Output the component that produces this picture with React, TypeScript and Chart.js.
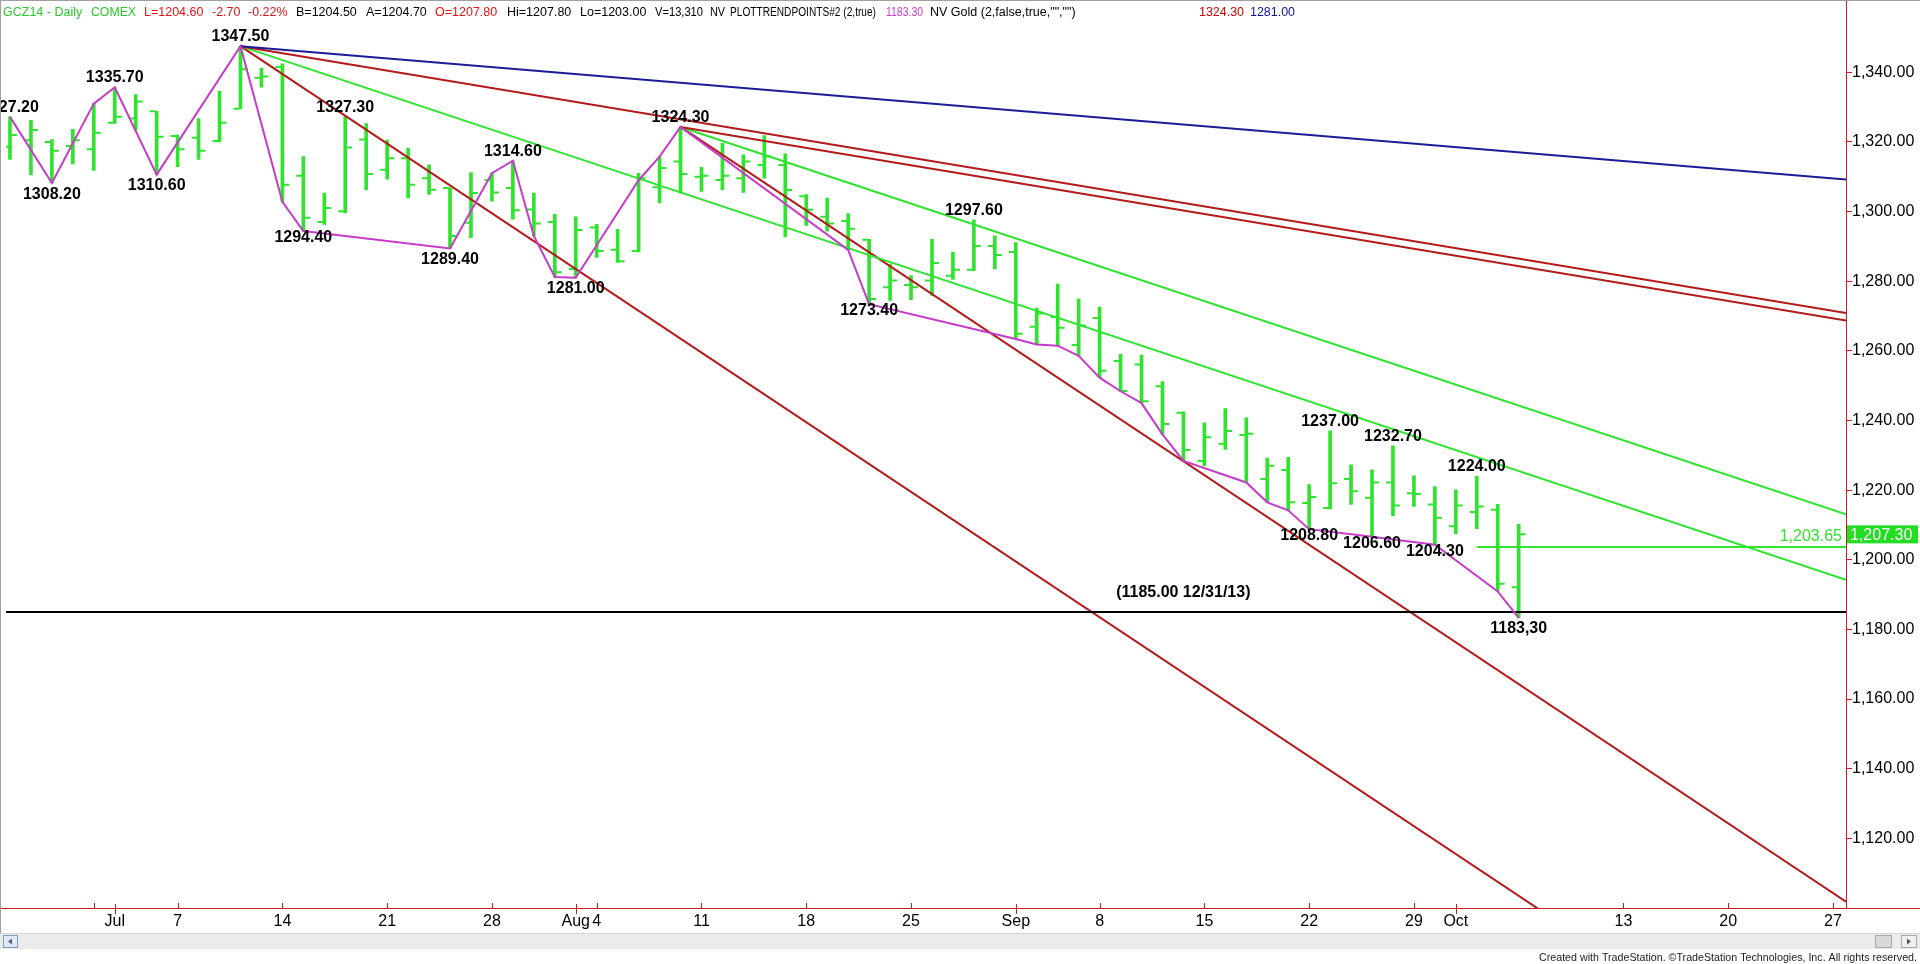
import React, { useEffect, useRef } from 'react';
import { Chart, registerables } from 'chart.js';

Chart.register(...registerables);

// ---------------- data ----------------
const dates = [
  'Jun 24', 'Jun 25', 'Jun 26', 'Jun 27', 'Jun 30',
  'Jul 1', 'Jul 2', 'Jul 3', 'Jul 7', 'Jul 8', 'Jul 9', 'Jul 10', 'Jul 11',
  'Jul 14', 'Jul 15', 'Jul 16', 'Jul 17', 'Jul 18',
  'Jul 21', 'Jul 22', 'Jul 23', 'Jul 24', 'Jul 25',
  'Jul 28', 'Jul 29', 'Jul 30', 'Jul 31', 'Aug 1',
  'Aug 4', 'Aug 5', 'Aug 6', 'Aug 7', 'Aug 8',
  'Aug 11', 'Aug 12', 'Aug 13', 'Aug 14', 'Aug 15',
  'Aug 18', 'Aug 19', 'Aug 20', 'Aug 21', 'Aug 22',
  'Aug 25', 'Aug 26', 'Aug 27', 'Aug 28', 'Aug 29',
  'Sep 2', 'Sep 3', 'Sep 4', 'Sep 5',
  'Sep 8', 'Sep 9', 'Sep 10', 'Sep 11', 'Sep 12',
  'Sep 15', 'Sep 16', 'Sep 17', 'Sep 18', 'Sep 19',
  'Sep 22', 'Sep 23', 'Sep 24', 'Sep 25', 'Sep 26',
  'Sep 29', 'Sep 30', 'Oct 1', 'Oct 2', 'Oct 3', 'Oct 6',
];

const opens = [
  1318.6, 1320.5, 1320.0, 1318.8, 1317.9, 1325.5, 1326.7, 1328.8, 1321.7, 1321.2,
  1320.3, 1329.5, 1338.4, 1341.5, 1310.3, 1297.0, 1300.1, 1320.7, 1312.0, 1315.3,
  1309.6, 1306.8, 1296.8, 1309.1, 1306.8, 1300.6, 1297.0, 1283.5, 1295.4, 1289.0,
  1288.7, 1307.0, 1314.4, 1310.0, 1309.1, 1309.6, 1313.4, 1313.4, 1304.4, 1298.5,
  1297.3, 1291.9, 1278.3, 1278.9, 1280.2, 1281.6, 1283.3, 1290.1, 1288.4, 1266.9,
  1269.7, 1261.7, 1269.4, 1257.1, 1256.1, 1249.8, 1242.2, 1228.4, 1233.3, 1235.8,
  1223.2, 1225.8, 1216.3, 1214.9, 1223.2, 1217.8, 1222.2, 1219.1, 1215.9, 1209.6,
  1213.7, 1214.4, 1192.1,
];
const highs = [
  1327.2, 1326.2, 1320.7, 1323.6, 1331.0, 1335.7, 1333.6, 1328.8, 1322.0, 1326.7,
  1334.6, 1347.5, 1341.2, 1342.4, 1315.8, 1305.3, 1327.3, 1325.3, 1320.5, 1318.2,
  1313.4, 1306.8, 1311.2, 1311.0, 1314.6, 1305.3, 1299.2, 1298.5, 1296.3, 1294.9,
  1311.0, 1315.8, 1324.3, 1312.7, 1319.6, 1316.3, 1321.8, 1316.6, 1304.9, 1303.9,
  1299.4, 1292.0, 1284.9, 1281.6, 1292.0, 1288.4, 1297.6, 1293.0, 1291.1, 1272.3,
  1279.2, 1274.9, 1272.6, 1259.0, 1258.8, 1251.2, 1242.5, 1239.3, 1243.4, 1240.8,
  1229.2, 1229.4, 1221.6, 1237.0, 1227.3, 1225.8, 1232.7, 1224.1, 1221.0, 1220.1,
  1224.0, 1215.9, 1210.2,
];
const lows = [
  1315.0, 1310.5, 1308.2, 1313.7, 1311.8, 1325.3, 1323.4, 1310.6, 1312.9, 1315.0,
  1320.0, 1329.5, 1335.7, 1302.8, 1294.4, 1296.3, 1299.6, 1306.3, 1309.3, 1303.9,
  1304.9, 1289.4, 1292.5, 1303.0, 1297.8, 1293.0, 1281.2, 1281.0, 1286.8, 1285.4,
  1288.4, 1302.5, 1305.3, 1305.8, 1306.3, 1305.5, 1309.6, 1292.7, 1296.0, 1294.4,
  1289.0, 1273.4, 1274.5, 1274.7, 1275.9, 1280.5, 1283.0, 1283.5, 1263.4, 1261.8,
  1261.5, 1258.6, 1252.3, 1248.4, 1245.0, 1236.0, 1228.4, 1227.0, 1231.7, 1222.2,
  1216.5, 1214.2, 1208.8, 1214.6, 1215.9, 1206.6, 1212.7, 1215.3, 1204.3, 1207.5,
  1208.9, 1190.9, 1183.3,
];
const closes = [
  1322.0, 1323.4, 1317.5, 1320.5, 1322.6, 1327.2, 1331.6, 1321.5, 1317.9, 1317.5,
  1325.5, 1340.9, 1338.8, 1307.7, 1298.2, 1301.0, 1318.4, 1310.8, 1315.3, 1307.7,
  1306.3, 1293.0, 1305.3, 1305.5, 1300.4, 1296.6, 1282.6, 1294.7, 1288.7, 1285.7,
  1309.6, 1312.5, 1310.8, 1310.3, 1310.3, 1314.4, 1315.8, 1306.2, 1300.5, 1296.6,
  1295.1, 1274.9, 1280.2, 1278.3, 1285.2, 1283.3, 1290.1, 1287.5, 1264.9, 1270.7,
  1266.6, 1267.3, 1254.3, 1248.5, 1245.5, 1239.0, 1231.5, 1235.2, 1237.0, 1236.2,
  1227.0, 1216.5, 1218.0, 1222.0, 1219.7, 1222.2, 1215.6, 1218.9, 1212.1, 1215.6,
  1215.3, 1193.1, 1207.3,
];

// x axis (trading-day index) ticks
const xTickIdx = [4, 5, 8, 13, 18, 23, 27, 28, 33, 38, 43, 48, 52, 57, 62, 67, 69, 77, 82, 87];
const xTickLabels = ['', 'Jul', '7', '14', '21', '28', 'Aug', '4', '11', '18', '25', 'Sep', '8', '15', '22', '29', 'Oct', '13', '20', '27'];
const yTickValues = [1120, 1140, 1160, 1180, 1200, 1220, 1240, 1260, 1280, 1300, 1320, 1340];

// zig-zag (trend points) line
const zigIdx = [0, 2, 4, 5, 7, 11, 13, 14, 21, 23, 24, 25, 26, 27, 30, 31, 32, 40, 41, 48, 49, 50, 51, 52, 53, 54, 55, 56, 59, 60, 61, 62, 65, 68, 71, 72];
const zigVal = [
  1327.2, 1308.2, 1331.0, 1335.7, 1310.6, 1347.5, 1302.8, 1294.4, 1289.4, 1311.0,
  1314.6, 1293.0, 1281.2, 1281.0, 1309.0, 1315.8, 1324.3, 1289.0, 1273.4, 1263.4,
  1261.8, 1261.5, 1258.6, 1252.3, 1248.4, 1245.0, 1236.0, 1228.4, 1222.2, 1216.5,
  1214.2, 1208.8, 1206.6, 1204.3, 1190.9, 1183.3,
];

// pivot labels
const pivotIdx = [0, 2, 5, 7, 11, 14, 16, 21, 24, 27, 32, 41, 46, 62, 63, 65, 66, 68, 70, 72];
const pivotVal = [1327.2, 1308.2, 1335.7, 1310.6, 1347.5, 1294.4, 1327.3, 1289.4, 1314.6, 1281.0, 1324.3, 1273.4, 1297.6, 1208.8, 1237.0, 1206.6, 1232.7, 1204.3, 1224.0, 1183.3];
const pivotText = ['1327.20', '1308.20', '1335.70', '1310.60', '1347.50', '1294.40', '1327.30', '1289.40', '1314.60', '1281.00', '1324.30', '1273.40', '1297.60', '1208.80', '1237.00', '1206.60', '1232.70', '1204.30', '1224.00', '1183,30'];
const pivotHigh = [true, false, true, false, true, false, true, false, true, false, true, false, true, false, true, false, true, false, true, false];
const pivotTight = [false, false, false, false, false, true, false, false, false, false, false, true, false, true, false, true, false, true, false, false];

// angle lines: start pivot and slope ($ per bar)
const trendStartIdx = [11, 11, 32, 11, 32, 11, 32];
const trendStartVal = [1347.5, 1347.5, 1324.3, 1347.5, 1324.3, 1347.5, 1324.3];
const trendSlope = [-0.5, -1, -1, -2, -2, -4, -4];
const trendKind = ['blue', 'red', 'red', 'green', 'green', 'red', 'red'];

const supportValue = 1185.0;
const supportNote = '(1185.00 12/31/13)';
const noteIdx = 59.2;
const noteVal = 1189.4;
const pivotLineValue = 1203.65;
const pivotLineStartIdx = 70;
const lastPrice = 1207.3;

const X_MIN = -0.19;
const X_MAX = 87.62;
const Y_MIN = 1100;
const Y_MAX = 1358;

// header
const headerSegments = [
  { text: 'GCZ14 - Daily', color: '#2cc42c', x: 3, w: 81 },
  { text: 'COMEX', color: '#2cc42c', x: 91, w: 45 },
  { text: 'L=1204.60', color: '#e01414', x: 144, w: 61 },
  { text: '-2.70', color: '#e01414', x: 212, w: 29 },
  { text: '-0.22%', color: '#e01414', x: 248, w: 40 },
  { text: 'B=1204.50', color: '#000000', x: 296, w: 63 },
  { text: 'A=1204.70', color: '#000000', x: 366, w: 62 },
  { text: 'O=1207.80', color: '#e01414', x: 435, w: 64 },
  { text: 'Hi=1207.80', color: '#000000', x: 507, w: 65 },
  { text: 'Lo=1203.00', color: '#000000', x: 580, w: 67 },
  { text: 'V=13,310', color: '#000000', x: 655, w: 48 },
  { text: 'NV', color: '#000000', x: 710, w: 15 },
  { text: 'PLOTTRENDPOINTS#2 (2,true)', color: '#000000', x: 730, w: 146 },
  { text: '1183.30', color: '#c83cc8', x: 886, w: 37 },
  { text: 'NV Gold (2,false,true,"","")', color: '#000000', x: 930, w: 150 },
  { text: '1324.30', color: '#cc0000', x: 1199, w: 45 },
  { text: '1281.00', color: '#10109a', x: 1250, w: 45 },
];
const footerText = 'Created with TradeStation. \u00A9TradeStation Technologies, Inc. All rights reserved.';

// ---------------- styles ----------------
const FONT = 'Arial, "Liberation Sans", Helvetica, sans-serif';
const GREEN = '#2fe32f';
const RED = '#b31a1a';
const BLUE = '#1c1c98';
const MAGENTA = '#c63cc8';
const AXIS_RED = '#c42020';
const kindColor: Record<string, string> = { blue: BLUE, red: RED, green: GREEN };

const fmt2 = (v: number) =>
  v.toLocaleString('en-US', { minimumFractionDigits: 2, maximumFractionDigits: 2 });

const overlayPlugin = {
  id: 'tsOverlay',
  beforeDraw(chart: any) {
    const { ctx, width, height } = chart;
    ctx.save();
    ctx.fillStyle = '#ffffff';
    ctx.fillRect(0, 0, width, height);
    ctx.restore();
  },
  afterDatasetsDraw(chart: any) {
    const { ctx, chartArea: ca } = chart;
    const x = chart.scales.x;
    const y = chart.scales.y;
    ctx.save();
    ctx.beginPath();
    ctx.rect(0, ca.top, ca.right, ca.bottom - ca.top);
    ctx.clip();
    ctx.font = `bold 16px ${FONT}`;
    ctx.fillStyle = '#000';
    ctx.textAlign = 'center';
    ctx.textBaseline = 'alphabetic';
    pivotIdx.forEach((p, k) => {
      const px = x.getPixelForValue(p);
      const py = y.getPixelForValue(pivotVal[k]);
      const by = pivotHigh[k] ? py - 5 : py + (pivotTight[k] ? 11 : 15.5);
      ctx.fillText(pivotText[k], px, by);
    });
    ctx.textAlign = 'right';
    ctx.fillText(supportNote, x.getPixelForValue(noteIdx), y.getPixelForValue(noteVal));
    ctx.font = `16px ${FONT}`;
    ctx.fillStyle = GREEN;
    ctx.fillText(fmt2(pivotLineValue), ca.right - 4, y.getPixelForValue(pivotLineValue) - 6);
    ctx.restore();
  },
  afterDraw(chart: any) {
    const { ctx, chartArea: ca, width } = chart;
    const x = chart.scales.x;
    const y = chart.scales.y;
    ctx.save();
    // axis lines
    ctx.strokeStyle = AXIS_RED;
    ctx.lineWidth = 1;
    ctx.beginPath();
    ctx.moveTo(0, Math.round(ca.bottom) + 0.5);
    ctx.lineTo(width, Math.round(ca.bottom) + 0.5);
    ctx.moveTo(Math.round(ca.right) + 0.5, 0);
    ctx.lineTo(Math.round(ca.right) + 0.5, ca.bottom);
    ctx.stroke();
    // x tick marks
    ctx.beginPath();
    xTickIdx.forEach((v, k) => {
      const px = Math.round(x.getPixelForValue(v)) + 0.5;
      const lab = xTickLabels[k];
      const isMonth = lab !== '' && isNaN(Number(lab));
      if (isMonth) {
        ctx.moveTo(px, ca.bottom - 4);
        ctx.lineTo(px, ca.bottom + 6);
      } else {
        ctx.moveTo(px, ca.bottom - 5);
        ctx.lineTo(px, ca.bottom);
      }
    });
    ctx.stroke();
    // last price box
    const py = y.getPixelForValue(lastPrice);
    ctx.fillStyle = '#22dd22';
    ctx.fillRect(ca.right + 1, py - 9, 71, 18);
    ctx.fillStyle = '#ffffff';
    ctx.font = `16px ${FONT}`;
    ctx.textAlign = 'left';
    ctx.textBaseline = 'alphabetic';
    ctx.fillText(fmt2(lastPrice), ca.right + 4, py + 6);
    // frame
    ctx.fillStyle = '#a0a0a0';
    ctx.fillRect(0, 0, width, 1);
    ctx.fillRect(0, 0, 1, 934);
    // header
    ctx.font = `12.5px ${FONT}`;
    headerSegments.forEach((s) => {
      ctx.fillStyle = s.color;
      ctx.fillText(s.text, s.x, 16, s.w);
    });
    // scrollbar
    ctx.fillStyle = '#ebebeb';
    ctx.fillRect(0, 933, width, 16);
    ctx.fillStyle = '#d4d4d4';
    ctx.fillRect(0, 933, width, 1);
    ctx.fillStyle = '#dfe8f4';
    ctx.fillRect(3, 935, 15, 13);
    ctx.strokeStyle = '#7f9db9';
    ctx.strokeRect(3.5, 935.5, 14, 12);
    ctx.fillStyle = '#4d6185';
    ctx.beginPath();
    ctx.moveTo(8, 941.5);
    ctx.lineTo(12, 938.5);
    ctx.lineTo(12, 944.5);
    ctx.closePath();
    ctx.fill();
    ctx.fillStyle = '#d8d8d8';
    ctx.fillRect(1875, 935, 17, 13);
    ctx.strokeStyle = '#a8a8a8';
    ctx.strokeRect(1875.5, 935.5, 16, 12);
    ctx.fillStyle = '#f0f0f0';
    ctx.fillRect(1901, 935, 16, 13);
    ctx.strokeRect(1901.5, 935.5, 15, 12);
    ctx.fillStyle = '#555';
    ctx.beginPath();
    ctx.moveTo(1911, 941.5);
    ctx.lineTo(1907, 938.5);
    ctx.lineTo(1907, 944.5);
    ctx.closePath();
    ctx.fill();
    // footer
    ctx.fillStyle = '#222';
    ctx.font = `11px ${FONT}`;
    ctx.textAlign = 'right';
    ctx.fillText(footerText, 1917, 961, 378);
    ctx.restore();
  },
};

export default function App() {
  const ref = useRef<HTMLCanvasElement>(null);

  useEffect(() => {
    document.body.style.margin = '0';
    const canvas = ref.current;
    if (!canvas) return;

    const trendSets = trendStartIdx.map((s, k) => ({
      type: 'line' as const,
      label: `angle ${k}`,
      data: [
        { x: s, y: trendStartVal[k] },
        { x: X_MAX, y: trendStartVal[k] + trendSlope[k] * (X_MAX - s) },
      ],
      borderColor: kindColor[trendKind[k]],
      borderWidth: 2,
      pointRadius: 0,
      order: 2,
    }));

    const chart = new Chart(canvas, {
      type: 'bar',
      data: {
        datasets: [
          {
            type: 'line',
            label: 'trend points',
            data: zigIdx.map((xv, k) => ({ x: xv, y: zigVal[k] })),
            borderColor: MAGENTA,
            borderWidth: 2,
            pointRadius: 0,
            tension: 0,
            order: 0,
          },
          ...trendSets,
          {
            type: 'line',
            label: 'support',
            data: [
              { x: X_MIN, y: supportValue },
              { x: X_MAX, y: supportValue },
            ],
            borderColor: '#000000',
            borderWidth: 2,
            pointRadius: 0,
            order: 1,
          },
          {
            type: 'line',
            label: 'pivot',
            data: [
              { x: pivotLineStartIdx, y: pivotLineValue },
              { x: X_MAX, y: pivotLineValue },
            ],
            borderColor: GREEN,
            borderWidth: 2,
            pointRadius: 0,
            order: 1,
          },
          {
            type: 'bar',
            label: 'range',
            data: highs.map((h, i) => ({ x: i, y: [lows[i], h] })) as any,
            backgroundColor: GREEN,
            borderWidth: 0,
            barThickness: 3,
            grouped: false,
            order: 6,
          },
          {
            type: 'scatter',
            label: 'open',
            data: opens.map((o, i) => ({ x: i - 0.19, y: o })),
            pointStyle: 'line',
            pointRadius: 3,
            pointBorderWidth: 2,
            borderColor: GREEN,
            pointBorderColor: GREEN,
            order: 5,
          },
          {
            type: 'scatter',
            label: 'close',
            data: closes.map((c, i) => ({ x: i + 0.19, y: c })),
            pointStyle: 'line',
            pointRadius: 3,
            pointBorderWidth: 2,
            borderColor: GREEN,
            pointBorderColor: GREEN,
            order: 5,
          },
        ] as any,
      },
      options: {
        responsive: false,
        animation: false,
        devicePixelRatio: 1,
        events: [],
        layout: { padding: { left: 2, top: 2, right: 0, bottom: 0 } },
        plugins: {
          legend: { display: false },
          tooltip: { enabled: false },
          title: { display: false },
        },
        scales: {
          x: {
            type: 'linear',
            position: 'bottom',
            offset: false,
            min: X_MIN,
            max: X_MAX,
            afterBuildTicks: (s: any) => {
              s.ticks = xTickIdx.map((v) => ({ value: v }));
            },
            afterFit: (s: any) => {
              s.height = 56;
            },
            grid: { display: true, offset: false, drawOnChartArea: false, drawTicks: true, tickLength: 4, color: 'rgba(0,0,0,0)' },
            border: { display: false },
            ticks: {
              autoSkip: false,
              maxRotation: 0,
              minRotation: 0,
              padding: 0,
              color: '#000',
              font: { size: 16, family: FONT },
              callback: (v: any) => {
                const k = xTickIdx.indexOf(Number(v));
                return k >= 0 ? xTickLabels[k] : '';
              },
            },
          },
          y: {
            type: 'linear',
            position: 'right',
            min: Y_MIN,
            max: Y_MAX,
            beginAtZero: false,
            afterBuildTicks: (s: any) => {
              s.ticks = yTickValues.map((v) => ({ value: v }));
            },
            afterFit: (s: any) => {
              s.width = 74;
            },
            grid: { display: true, drawOnChartArea: false, drawTicks: true, tickLength: 6, color: AXIS_RED },
            border: { display: false },
            ticks: {
              padding: 0,
              color: '#000',
              font: { size: 16, family: FONT },
              callback: (v: any) => fmt2(Number(v)),
            },
          },
        },
      } as any,
      plugins: [overlayPlugin],
    });

    return () => chart.destroy();
  }, []);

  return (
    <div style={{ position: 'absolute', left: 0, top: 0, width: 1920, height: 964, background: '#fff' }}>
      <canvas
        ref={ref}
        width={1920}
        height={964}
        aria-label={`GCZ14 daily bars ${dates[0]} - ${dates[dates.length - 1]}`}
        style={{ display: 'block', width: 1920, height: 964 }}
      />
    </div>
  );
}
